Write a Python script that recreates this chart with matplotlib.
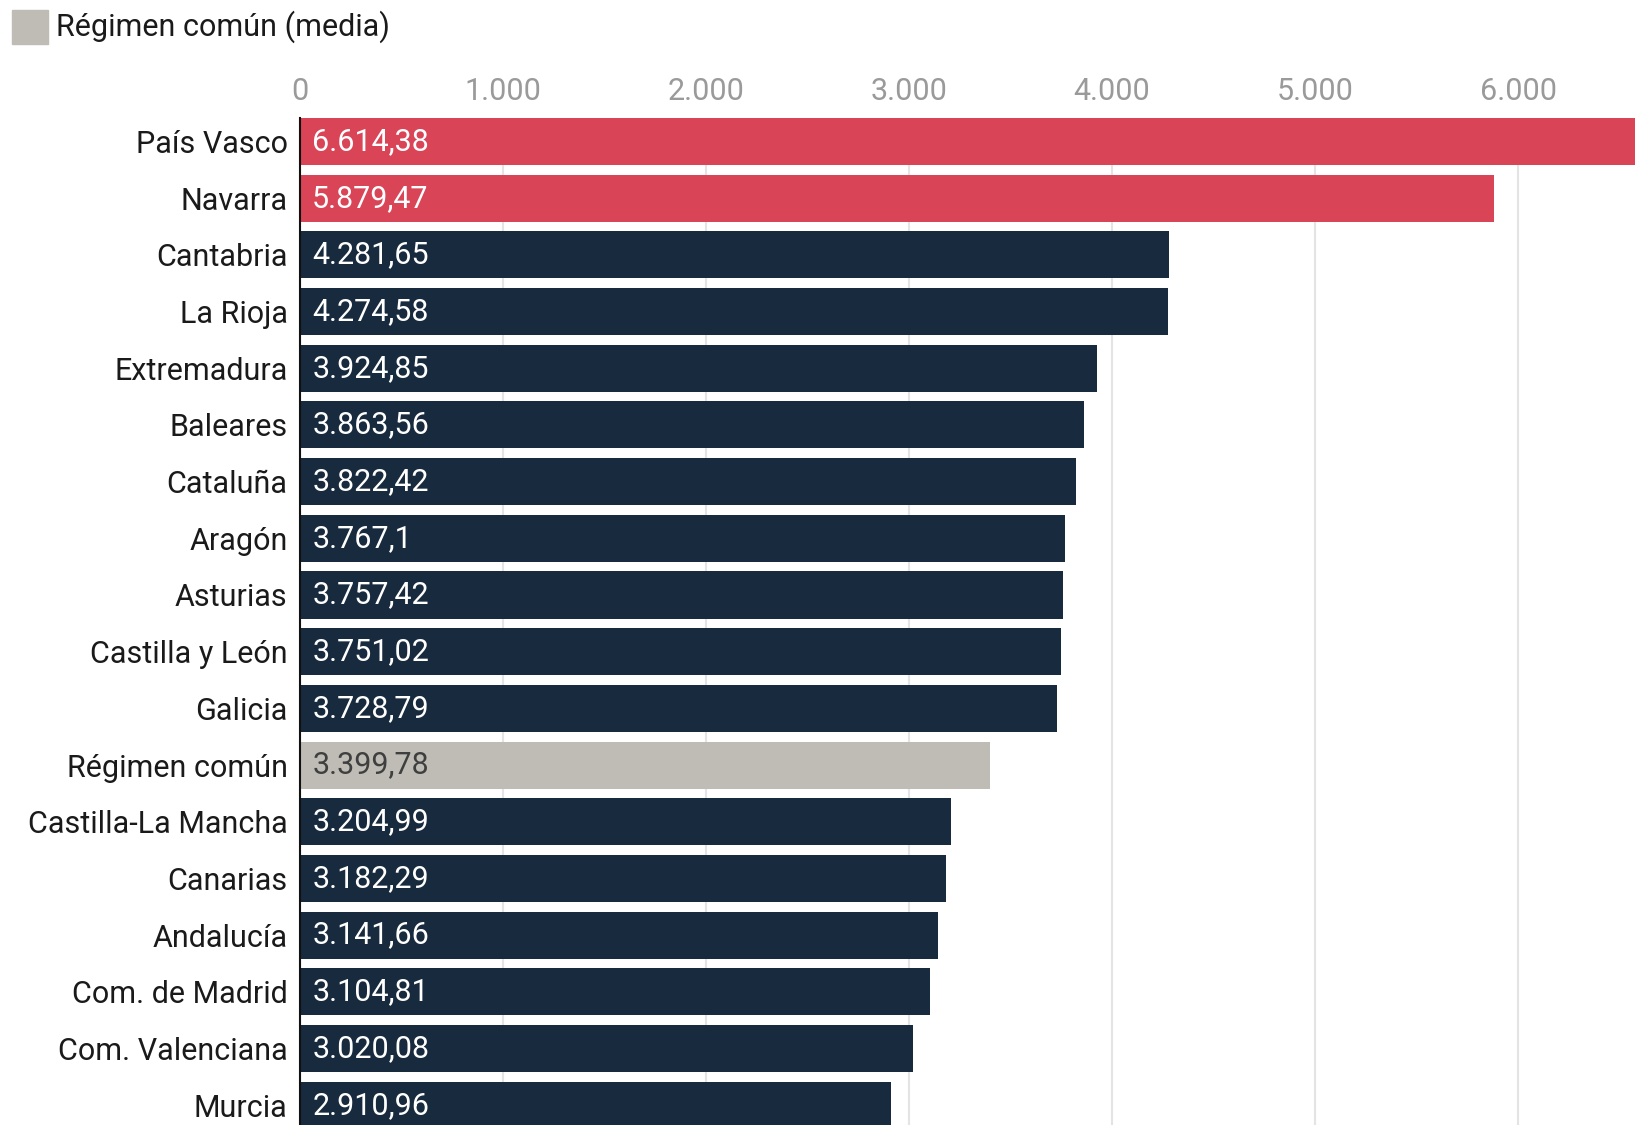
import matplotlib.pyplot as plt
from matplotlib.patches import Rectangle
from matplotlib.ticker import FuncFormatter

plt.rcParams['font.family'] = ['Roboto', 'DejaVu Sans']

regiones = [
    "País Vasco", "Navarra", "Cantabria", "La Rioja", "Extremadura",
    "Baleares", "Cataluña", "Aragón", "Asturias", "Castilla y León",
    "Galicia", "Régimen común", "Castilla-La Mancha", "Canarias",
    "Andalucía", "Com. de Madrid", "Com. Valenciana", "Murcia",
]
valores = [
    6614.38, 5879.47, 4281.65, 4274.58, 3924.85,
    3863.56, 3822.42, 3767.1, 3757.42, 3751.02,
    3728.79, 3399.78, 3204.99, 3182.29,
    3141.66, 3104.81, 3020.08, 2910.96,
]
foral = ["País Vasco", "Navarra"]
media = "Régimen común"
ticks = [0, 1000, 2000, 3000, 4000, 5000, 6000]

ROJO = "#d94557"
AZUL = "#182a3d"
GRIS = "#bfbcb5"
FS = 22


def fmt_es(v, dec=2):
    s = f"{v:,.{dec}f}".replace(",", "X").replace(".", ",").replace("X", ".")
    if "," in s:
        s = s.rstrip("0").rstrip(",")
    return s


fig = plt.figure(figsize=(16.35, 11.25), dpi=100)
ax = fig.add_axes([300 / 1635, 0, 1 - 300 / 1635, 1007 / 1125])

colores = []
for r in regiones:
    if r in foral:
        colores.append(ROJO)
    elif r == media:
        colores.append(GRIS)
    else:
        colores.append(AZUL)

y = list(range(len(regiones)))
ax.barh(y, valores, height=0.83, color=colores, zorder=2)

for yi, v, r in zip(y, valores, regiones):
    col = "#3f3f3f" if r == media else "white"
    ax.text(60, yi, fmt_es(v), va="center", ha="left", fontsize=FS,
            color=col, zorder=3)

ax.set_xlim(0, 6576)
ax.set_ylim(17.35, -0.415)
ax.set_yticks(y)
ax.set_yticklabels(regiones, fontsize=FS, color="#1a1a1a")
ax.set_xticks(ticks)
ax.xaxis.set_major_formatter(FuncFormatter(lambda v, p: fmt_es(v, 0)))
ax.xaxis.tick_top()
ax.tick_params(axis="x", length=0, pad=9, labelsize=FS, labelcolor="#9a9a9a")
ax.tick_params(axis="y", length=0, pad=9)
ax.grid(axis="x", color="#e4e4e4", linewidth=1.5, zorder=0)
for s in ["top", "right", "bottom"]:
    ax.spines[s].set_visible(False)
ax.spines["left"].set_color("#111111")
ax.spines["left"].set_linewidth(1.5)
ax.spines["left"].set_zorder(4)

# leyenda
fig.patches.append(Rectangle((12 / 1635, 1 - 44 / 1125), 36 / 1635, 34 / 1125,
                             transform=fig.transFigure, color=GRIS))
fig.text(56 / 1635, 1 - 27 / 1125, "Régimen común (media)", fontsize=FS,
         va="center", ha="left", color="#1a1a1a")

fig.savefig("out.png", dpi=100)
